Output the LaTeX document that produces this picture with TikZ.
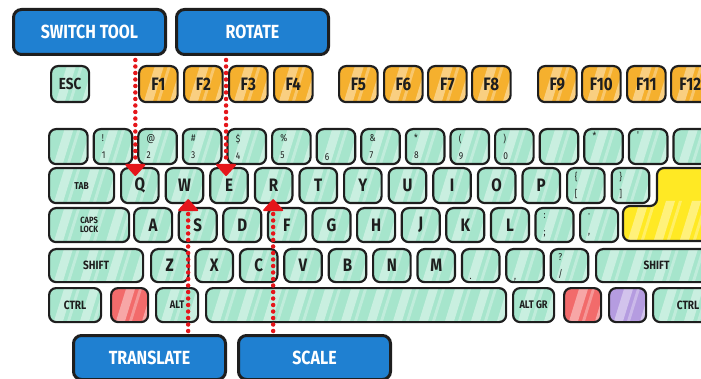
\documentclass[tikz,border=0pt]{standalone}
\usepackage{fontspec}
\newfontfamily\keyfont[FakeStretch=0.84]{Fira Sans}
\usetikzlibrary{calc}

\definecolor{mint}{HTML}{A6E5CC}
\definecolor{fnorange}{HTML}{F5B02E}
\definecolor{enteryellow}{HTML}{FFE924}
\definecolor{keyred}{HTML}{F26B6B}
\definecolor{keypurple}{HTML}{B59CE0}
\definecolor{tagblue}{HTML}{1F80D1}
\definecolor{dotred}{HTML}{E5161B}
\definecolor{outline}{HTML}{1E1E1E}

\newcommand\keysz[1]{\keyfont\bfseries\fontsize{#1}{#1}\selectfont}

\tikzset{
  % glossy diagonal streaks clipped to a key outline
  streaks/.style={path picture={
    \foreach \i in {0,...,12}{
      \fill[white,opacity=.4,sharp corners]
        ($(path picture bounding box.south west)+(\i*26pt+4pt,-2pt)$)
        -- ++(9pt,0pt) -- ++(13pt,42pt) -- ++(-9pt,0pt) -- cycle;
      \fill[white,opacity=.3,sharp corners]
        ($(path picture bounding box.south west)+(\i*26pt+17pt,-2pt)$)
        -- ++(3pt,0pt) -- ++(13pt,42pt) -- ++(-3pt,0pt) -- cycle;
    }}},
  keybody/.style={draw=outline, line width=2.2pt, rounded corners=7pt,
    fill=#1, streaks},
  keybody/.default=mint,
  keycap/.style={keybody=#1, anchor=north west, inner sep=0pt,
    text=outline, font=\keysz{18}, minimum height=35pt, minimum width=37.5pt},
  keycap/.default=mint,
  fncap/.style={keycap=fnorange, minimum width=38.5pt, minimum height=36pt,
    font=\keysz{18}},
  numcap/.style={keycap, minimum width=38.5pt, text width=22pt, align=left,
    font=\keyfont\fontsize{10}{17}\selectfont},
  modcap/.style={keycap, font=\keysz{12}},
  tag/.style={draw=outline, line width=3pt, rounded corners=8pt, fill=tagblue,
    text=white, font=\keysz{19}, anchor=north west, inner sep=0pt,
    minimum width=152pt, minimum height=45pt},
  link/.style={draw=dotred, line width=4.5pt, line cap=round,
    dash pattern=on 0pt off 6.5pt},
  tiphead/.style={fill=dotred, draw=dotred, line width=2pt, line join=round},
}

\begin{document}
\begin{tikzpicture}[x=1pt,y=-1pt]
\useasboundingbox (0,0) rectangle (701,379);
\clip (0,0) rectangle (701,379);

% ---------- function row ----------
\node[keycap, minimum width=38pt, minimum height=36pt, font=\keysz{16}] (esc) at (50,65) {ESC};
\foreach \lbl/\x in {F1/138,F2/183,F3/228,F4/273,F5/338,F6/383,F7/427,F8/471,
                     F9/537,F10/581,F11/626,F12/670}
  \node[fncap] (\lbl) at (\x,65) {\lbl};

% ---------- number row ----------
\node[numcap] (n0)  at (48,128)    {};
\node[numcap] (n1)  at (92.6,128)  {!\\1};
\node[numcap] (n2)  at (137.2,128) {@\\2};
\node[numcap] (n3)  at (181.8,128) {\#\\3};
\node[numcap] (n4)  at (226.4,128) {\$\\4};
\node[numcap] (n5)  at (271,128)   {\%\\5};
\node[numcap] (n6)  at (315.6,128) {\strut\\6};
\node[numcap] (n7)  at (360.2,128) {\&\\7};
\node[numcap] (n8)  at (404.8,128) {*\\8};
\node[numcap] (n9)  at (449.4,128) {(\\9};
\node[numcap] (n10) at (494,128)   {)\\0};
\node[numcap] (n11) at (538.6,128) {};
\node[numcap] (n12) at (583.2,128) {*\\\strut};
\node[numcap] (n13) at (627.8,128) {'\\\strut};
\node[numcap] (n14) at (672.4,128) {};

% ---------- tab row ----------
\node[modcap, minimum width=65pt, font=\keysz{10}] (tab) at (48,167) {TAB};
\foreach \k [count=\i from 0] in {Q,W,E,R,T,Y,U,I,O,P}
  \node[keycap] (\k) at (120+44.6*\i,167) {\k};
\node[numcap, minimum width=37.5pt] (lbrack) at (566,167)   {\{\\{[}};
\node[numcap, minimum width=37.5pt] (rbrack) at (610.6,167) {\}\\{]}};

% return key spanning two rows
\path[keybody=enteryellow] (657,168) -- (716,168) -- (716,241) -- (623,241)
  -- (623,206) -- (657,206) -- cycle;

% ---------- home row ----------
\node[modcap, minimum width=80pt, minimum height=34pt, align=center,
      font=\keyfont\bfseries\fontsize{9}{9}\selectfont] (caps) at (48,207) {CAPS\\LOCK};
\foreach \k [count=\i from 0] in {A,S,D,F,G,H,J,K,L}
  \node[keycap, minimum width=38pt, minimum height=34pt] (\k) at (133+44.6*\i,207) {\k};
\node[numcap, minimum width=38pt, minimum height=34pt] (semi)  at (534.4,207) {:\\;};
\node[numcap, minimum width=38pt, minimum height=34pt] (quote) at (579,207)   {·\\,};

% ---------- shift row ----------
\node[modcap, minimum width=94pt, minimum height=33pt] (lshift) at (48,248) {SHIFT};
\foreach \k [count=\i from 0] in {Z,X,C,V,B,N,M}
  \node[keycap, minimum height=33pt] (\k) at (150+44.4*\i,248) {\k};
\node[numcap, minimum width=37.5pt, minimum height=33pt] (dot)   at (460.8,248) {\strut\\.};
\node[numcap, minimum width=37.5pt, minimum height=33pt] (comma) at (505.2,248) {\strut\\,};
\node[numcap, minimum width=37.5pt, minimum height=33pt] (slash) at (549.6,248) {?\\/};
\node[modcap, minimum width=121pt, minimum height=33pt] (rshift) at (595,248) {SHIFT};

% ---------- bottom row ----------
\node[modcap, minimum width=52pt, minimum height=34pt] (lctrl) at (48,287) {CTRL};
\node[keycap=keyred, minimum width=37pt, minimum height=34pt] (lwin) at (110,287) {};
\node[modcap, minimum width=42pt, minimum height=34pt, font=\keysz{11}] (alt) at (155,287) {ALT};
\node[keycap, minimum width=300pt, minimum height=34pt] (space) at (205,287) {};
\node[modcap, minimum width=41pt, minimum height=34pt, font=\keysz{11}] (altgr) at (512,287) {ALT GR};
\node[keycap=keyred, minimum width=37pt, minimum height=34pt] (rwin) at (563,287) {};
\node[keycap=keypurple, minimum width=37pt, minimum height=34pt] (menu) at (608,287) {};
\node[modcap, minimum width=70pt, minimum height=34pt] (rctrl) at (652,287) {CTRL};

% ---------- action labels ----------
\node[tag] (swt) at (12,8)    {SWITCH TOOL};
\node[tag] (rot) at (175,8)   {ROTATE};
\node[tag, minimum height=44pt] (trn) at (72,334)  {TRANSLATE};
\node[tag, minimum height=44pt] (scl) at (237,334) {SCALE};

% ---------- dotted pointers with triangular heads ----------
\coordinate (qtip) at ($(Q.north)+(-4.5,8)$);
\coordinate (etip) at ($(E.north)+(-3,8)$);
\coordinate (wtip) at ($(W.south)+(3.7,-4)$);
\coordinate (rtip) at ($(R.south)+(-0.5,-4)$);

\draw[link] ($(swt.south -| qtip)+(0,4)$) -- ($(qtip)+(0,-11)$);
\draw[link] ($(rot.south -| etip)+(0,4)$) -- ($(etip)+(0,-11)$);
\draw[link] ($(trn.north -| wtip)+(0,-3)$) -- ($(wtip)+(0,11)$);
\draw[link] ($(scl.north -| rtip)+(0,-3)$) -- ($(rtip)+(0,11)$);

\path[tiphead] (qtip) -- ++(-9,-10) -- ++(18,0) -- cycle;
\path[tiphead] (etip) -- ++(-9,-10) -- ++(18,0) -- cycle;
\path[tiphead] (wtip) -- ++(-9,10) -- ++(18,0) -- cycle;
\path[tiphead] (rtip) -- ++(-9,10) -- ++(18,0) -- cycle;
\end{tikzpicture}
\end{document}
